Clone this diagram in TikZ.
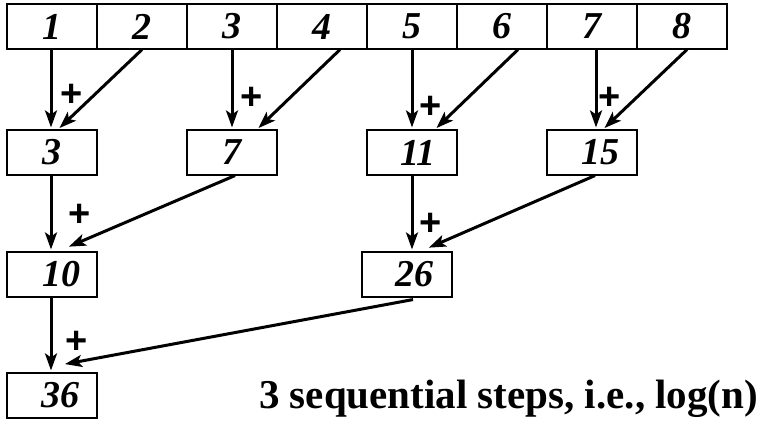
\documentclass[tikz,border=0pt]{standalone}
\usepackage{fontspec}
\setmainfont{Liberation Serif}
\newfontfamily\plusfont{Liberation Sans}
\usetikzlibrary{arrows.meta}
\tikzset{
  cell/.style={draw, line width=1.1pt, minimum width=90pt, minimum height=45pt, inner sep=0pt,
    font=\fontsize{38}{38}\selectfont\bfseries\itshape},
  arr/.style={line width=3pt, -{Stealth[length=17pt,width=12pt,inset=4pt]}, shorten >=2pt},
  plus/.style={font=\fontsize{38}{38}\selectfont\plusfont\bfseries, inner sep=0pt},
}
\begin{document}
\begin{tikzpicture}[x=1pt,y=-1pt]
\useasboundingbox (0,0) rectangle (760,421);
% top row
\foreach \i in {1,...,8}{
  \node[cell] (t\i) at ({52+90*(\i-1)},26.5) {\i};
}
% level 2
\node[cell] (a1) at (52,152.5) {3};
\node[cell] (a2) at (232,152.5) {7};
\node[cell] (a3) at (412,152.5) {\hspace*{12pt}11};
\node[cell] (a4) at (592,152.5) {\hspace*{16pt}15};
% level 3
\node[cell] (b1) at (52,274.5) {\hspace*{18pt}10};
\node[cell] (b2) at (407,274.5) {\hspace*{14pt}26};
% level 4
\node[cell] (c1) at (52,395.5) {\hspace*{16pt}36};
% caption
\node[anchor=base west, inner sep=0pt, font=\fontsize{41}{41}\selectfont\bfseries] (cap) at (259,408) {3 sequential steps, i.e., log(n)};
% arrows level 1 -> 2
\draw[arr] ([xshift=-1pt]t1.south) -- ([xshift=-1pt]a1.north);
\draw[arr] (t2.south) -- ([xshift=6pt]a1.north);
\node[plus] (p1) at (72,95) {+};
\draw[arr] (t3.south) -- (a2.north);
\draw[arr] ([xshift=18pt]t4.south) -- ([xshift=25pt]a2.north);
\node[plus] (p2) at (252,98) {+};
\draw[arr] (t5.south) -- (a3.north);
\draw[arr] ([xshift=16pt]t6.south) -- ([xshift=23pt]a3.north);
\node[plus] (p3) at (431,107) {+};
\draw[arr] ([xshift=4pt]t7.south) -- ([xshift=4pt]a4.north);
\draw[arr] ([xshift=5pt]t8.south) -- ([xshift=11pt]a4.north);
\node[plus] (p4) at (610,98) {+};
% level 2 -> 3
\coordinate (b1in) at ([xshift=15pt,yshift=4pt]b1.north);
\draw[arr] ([xshift=-1pt]a1.south) -- ([xshift=-1pt]b1.north);
\draw[arr] ([xshift=3pt]a2.south) -- (b1in);
\node[plus] (p5) at (80,215) {+};
\coordinate (b2in) at ([xshift=20pt,yshift=3pt]b2.north);
\draw[arr] (a3.south) -- ([xshift=5pt]b2.north);
\draw[arr] ([xshift=3pt]a4.south) -- (b2in);
\node[plus] (p6) at (431,224) {+};
% level 3 -> 4
\coordinate (c1in) at ([xshift=11pt,yshift=8pt]c1.north);
\coordinate (b2out) at ([xshift=6pt,yshift=-2pt]b2.south);
\draw[arr] ([xshift=-1pt]b1.south) -- ([xshift=-1pt]c1.north);
\draw[arr] (b2out) -- (c1in);
\node[plus] (p7) at (77,342) {+};
\end{tikzpicture}
\end{document}
